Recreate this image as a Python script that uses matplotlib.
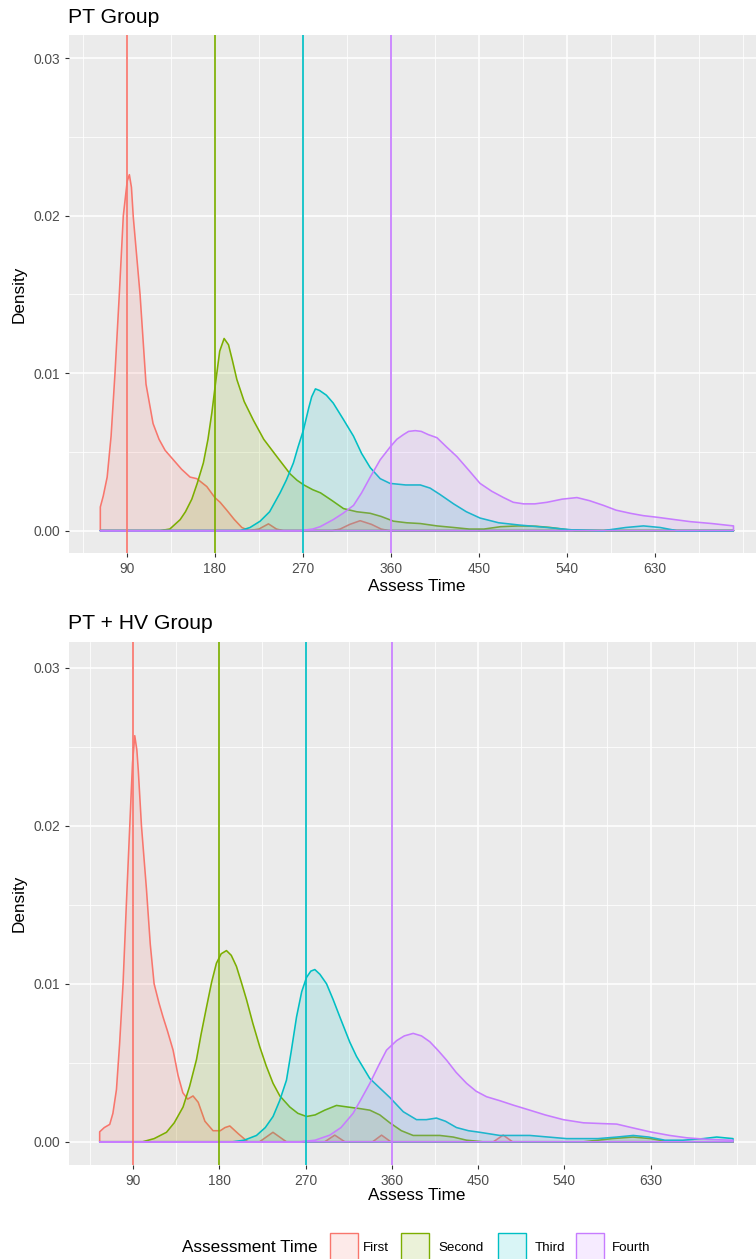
import matplotlib
matplotlib.use("Agg")
import matplotlib.pyplot as plt
from matplotlib.patches import Rectangle
from matplotlib.colors import to_rgba

plt.rcParams['font.family'] = ['Liberation Sans', 'DejaVu Sans']

groups = ["First", "Second", "Third", "Fourth"]
colors = ["#F8766D", "#7CAE00", "#00BFC4", "#C77CFF"]
vline_x = [90, 180, 270, 360]
xticks = [90, 180, 270, 360, 450, 540, 630]
xminor = [45, 135, 225, 315, 405, 495, 585, 675, 720]
yticks = [0.00, 0.01, 0.02, 0.03]
ytick_labels = ["0.00", "0.01", "0.02", "0.03"]
yminor = [0.005, 0.015, 0.025]
panel_titles = ["PT Group", "PT + HV Group"]

# ---------------- PT Group ----------------
pt_first_x = [63, 63, 66, 70, 74, 78, 82.4, 86.5, 90.5, 92.7, 94.8, 96.7, 103.6, 109.7, 116.9, 123,
              129.2, 137.6, 146, 154.7, 161.6, 171.8, 180, 185.4, 192.2, 200, 207.6, 215, 225,
              234.8, 243, 250, 300, 308, 318, 328.5, 340, 350, 358, 710]
pt_first_y = [0, 0.0015, 0.0022, 0.0034, 0.0060, 0.0100, 0.0150, 0.0200, 0.0222, 0.0226, 0.0218,
              0.0199, 0.0150, 0.0093, 0.0068, 0.0058, 0.0051, 0.0045, 0.0039, 0.0034, 0.0033, 0.0028,
              0.0021, 0.0018, 0.0013, 0.0007, 0.0002, 0.0, 0.0001, 0.00043, 0.0001, 0.0, 0.0,
              0.0001, 0.0004, 0.00063, 0.0004, 0.0001, 0.0, 0.0]

pt_second_x = [63, 124, 134, 144.6, 150, 156.5, 162, 168.3, 173, 177, 181, 185, 189.5, 194, 198,
               202.5, 210, 219.5, 230, 243.4, 257, 264, 271, 280, 288, 300, 311.5, 325, 338.8, 350,
               362.6, 376, 390, 407, 424, 440, 455, 472, 490, 508, 523, 535, 548, 710]
pt_second_y = [0, 0, 0.0001, 0.0007, 0.0012, 0.0020, 0.0030, 0.0043, 0.0058, 0.0075, 0.0095,
               0.0114, 0.0122, 0.0118, 0.0108, 0.0096, 0.0082, 0.0070, 0.0058, 0.0047, 0.0036,
               0.0032, 0.0029, 0.0026, 0.0024, 0.0019, 0.0014, 0.0012, 0.0011, 0.0009, 0.0006,
               0.0005, 0.00045, 0.0003, 0.0002, 0.0001, 0.0001, 0.00025, 0.0003, 0.00028, 0.0002,
               0.0001, 0.0, 0.0]

pt_third_x = [63, 206, 216, 226.3, 236, 246.7, 253, 260.3, 265, 270.6, 276, 279, 282.8, 287, 294,
              301, 311, 321.7, 330, 338.8, 349, 359, 375, 390, 400, 410, 424, 437, 451, 470, 492,
              520, 545, 577, 600, 618, 635, 652, 710]
pt_third_y = [0, 0, 0.0002, 0.0006, 0.0012, 0.0024, 0.0032, 0.0043, 0.0053, 0.0064, 0.0078,
              0.0085, 0.0090, 0.0089, 0.0086, 0.0081, 0.0071, 0.0060, 0.0049, 0.0040, 0.0033,
              0.0030, 0.0029, 0.0029, 0.0027, 0.0023, 0.0017, 0.0012, 0.0008, 0.0005, 0.00035,
              0.0002, 0.00005, 0.0, 0.0002, 0.0003, 0.0002, 0.0, 0.0]

pt_fourth_x = [63, 267, 280, 287.6, 301, 311, 321.7, 330, 338.8, 349, 359, 366, 372.8, 378, 384.8,
               391, 398, 407, 417, 427.4, 440, 451, 463, 475, 485, 495.5, 507, 519.4, 535, 550,
               563, 577.3, 590, 604.6, 618, 632, 650, 666, 688, 710, 710]
pt_fourth_y = [0, 0, 0.0001, 0.00025, 0.0007, 0.0011, 0.0016, 0.0024, 0.0034, 0.0045, 0.0053,
               0.0058, 0.0061, 0.0063, 0.00635, 0.0063, 0.0061, 0.0059, 0.0053, 0.0047, 0.0038,
               0.0030, 0.0025, 0.0021, 0.0018, 0.0017, 0.0017, 0.0018, 0.0020, 0.0021, 0.0019,
               0.0016, 0.0013, 0.0011, 0.00095, 0.00085, 0.0007, 0.00057, 0.00045, 0.0003, 0.0]

# ---------------- PT + HV Group ----------------
hv_first_x = [55.2, 55.2, 60, 65.7, 69, 72.7, 76, 79.6, 83.1, 86.6, 89.5, 91.8, 94, 95.5, 98.8,
              104, 108, 112, 117, 121.3, 126, 131.8, 137, 142, 147, 152.6, 158, 165, 173.5, 181,
              186, 191, 200, 209.7, 222, 229, 236, 243, 250, 290, 300.5, 311, 340, 349.3, 359,
              466, 476.2, 486, 716]
hv_first_y = [0, 0.00063, 0.0009, 0.0011, 0.0018, 0.0033, 0.0062, 0.0100, 0.0151, 0.0200, 0.0240,
              0.0257, 0.0248, 0.0235, 0.0200, 0.0160, 0.0125, 0.0100, 0.0088, 0.0079, 0.0070,
              0.0058, 0.0042, 0.0031, 0.0027, 0.0029, 0.0025, 0.0013, 0.0007, 0.0007, 0.0009,
              0.0010, 0.0005, 0.0, 0.0, 0.0003, 0.0006, 0.0003, 0.0, 0.0, 0.00042, 0.0, 0.0,
              0.00042, 0.0, 0.0, 0.00042, 0.0, 0.0]

hv_second_x = [55.2, 100, 112, 124.9, 133, 142.2, 149, 156.2, 161, 166.6, 172, 177, 182, 187.5,
               192.5, 197.9, 203, 208.4, 215, 222.3, 229, 236.1, 243.2, 253.6, 262, 271, 280, 290,
               302.3, 314, 326.6, 337.1, 347.5, 358, 370, 382.3, 396, 410.1, 424, 438, 455, 470,
               560, 590, 611.6, 630, 650, 716]
hv_second_y = [0, 0, 0.0002, 0.0006, 0.0012, 0.0022, 0.0035, 0.0052, 0.0068, 0.0085, 0.0101,
               0.0113, 0.0119, 0.0121, 0.0118, 0.0111, 0.0101, 0.0090, 0.0075, 0.0060, 0.0048,
               0.0037, 0.0029, 0.0022, 0.0018, 0.0016, 0.0017, 0.0020, 0.0023, 0.0022, 0.0021,
               0.0020, 0.0017, 0.0012, 0.0007, 0.0004, 0.0004, 0.0004, 0.0003, 0.0001, 0.0, 0.0,
               0.0, 0.0002, 0.0003, 0.0002, 0.0, 0.0]

hv_third_x = [55.2, 194, 206, 218.8, 228, 236.1, 243, 250.1, 255, 260.6, 266, 271, 275.5, 279.7,
              285, 291.9, 298.8, 305.8, 316.2, 323.2, 337.1, 347.5, 358, 372, 385.8, 396, 406.6,
              416, 427.5, 440, 451.8, 472.7, 504, 542.4, 575, 595, 611.9, 628, 645, 663.8, 685,
              699, 716, 716]
hv_third_y = [0, 0, 0.0001, 0.0004, 0.0009, 0.0016, 0.0026, 0.0039, 0.0057, 0.0079, 0.0095,
              0.0104, 0.0108, 0.0109, 0.0106, 0.0100, 0.0090, 0.0079, 0.0063, 0.0054, 0.0040,
              0.0034, 0.0028, 0.0019, 0.0014, 0.0014, 0.0015, 0.0013, 0.0009, 0.0007, 0.0006,
              0.0004, 0.0004, 0.0002, 0.0002, 0.0003, 0.0004, 0.0003, 0.0001, 0.0001, 0.0002,
              0.0003, 0.0002, 0.0]

hv_fourth_x = [55.2, 264, 280, 295.3, 307, 319.6, 328, 337.1, 346, 354.5, 365, 373, 382.3, 391,
               399.7, 408, 417.1, 427, 438, 448, 458.9, 472.7, 486.7, 504, 520, 538.9, 560, 580,
               594.6, 610, 629.4, 650, 668, 690, 716, 716]
hv_fourth_y = [0, 0, 0.0001, 0.00042, 0.0009, 0.0018, 0.0027, 0.0037, 0.0048, 0.0058, 0.0064,
               0.0067, 0.00686, 0.0067, 0.00633, 0.0058, 0.00517, 0.0044, 0.0037, 0.0032, 0.00285,
               0.0026, 0.00232, 0.0020, 0.0017, 0.0014, 0.0012, 0.00115, 0.00112, 0.0009, 0.00063,
               0.0004, 0.00025, 0.00015, 0.0001, 0.0]

panels = [
    [(pt_first_x, pt_first_y), (pt_second_x, pt_second_y),
     (pt_third_x, pt_third_y), (pt_fourth_x, pt_fourth_y)],
    [(hv_first_x, hv_first_y), (hv_second_x, hv_second_y),
     (hv_third_x, hv_third_y), (hv_fourth_x, hv_fourth_y)],
]

W, H = 756, 1259
fig = plt.figure(figsize=(W / 100, H / 100), dpi=100)

geoms = [
    dict(box=(69, 35, 756, 553), xlim=(31, 733), ylim=(-0.00142, 0.03147),
         title_base=22.7, xlab_top=579),
    dict(box=(69, 641.7, 756, 1165), xlim=(23.2, 740), ylim=(-0.00147, 0.03165),
         title_base=629, xlab_top=1188),
]

tick_font = 9.9
for g, series, title in zip(geoms, panels, panel_titles):
    l, t, r, b = g['box']
    ax = fig.add_axes([l / W, 1 - b / H, (r - l) / W, (b - t) / H])
    ax.set_facecolor('#EBEBEB')
    for s in ax.spines.values():
        s.set_visible(False)
    ax.set_axisbelow(True)
    ax.set_xlim(*g['xlim'])
    ax.set_ylim(*g['ylim'])
    ax.set_xticks(xticks)
    ax.set_xticklabels([str(v) for v in xticks])
    ax.set_xticks(xminor, minor=True)
    ax.set_yticks(yticks)
    ax.set_yticklabels(ytick_labels)
    ax.set_yticks(yminor, minor=True)
    ax.grid(which='major', color='white', lw=1.15)
    ax.grid(which='minor', color='white', lw=0.55)
    ax.tick_params(which='major', length=2.8, width=0.8, color='#333333',
                   labelsize=tick_font, labelcolor='#4D4D4D', pad=3.4)
    ax.tick_params(which='minor', length=0)

    for (xs, ys), c in zip(series, colors):
        ax.fill(xs, ys, facecolor=to_rgba(c, 0.15), edgecolor=c, lw=1.15,
                joinstyle='round', zorder=2)
    for v, c in zip(vline_x, colors):
        ax.axvline(v, color=c, lw=1.25, zorder=3)

    ax.set_xlabel("Assess Time", fontsize=12.3, color='black')
    ax.xaxis.set_label_coords(0.5 + (764 - 756) / 2 / (r - l), -(g['xlab_top'] - b) / (b - t))
    ax.set_ylabel("Density", fontsize=12.3, color='black')
    ax.yaxis.set_label_coords(-(l - 27) / (r - l), 0.5)
    fig.text(68 / W, 1 - g['title_base'] / H, title, fontsize=15.2, color='black',
             ha='left', va='baseline')

leg_y = 1248
fig.text(181.5 / W, 1 - leg_y / H, "Assessment Time", fontsize=12.3, ha='left', va='center')
key_x = [330, 401, 498, 576]
lab_x = [363, 438, 535, 612]
for kx, lx, g, c in zip(key_x, lab_x, groups, colors):
    fig.patches.append(Rectangle((kx / W, 1 - (1233 + 28) / H), 28 / W, 28 / H,
                                 transform=fig.transFigure, facecolor=to_rgba(c, 0.15),
                                 edgecolor=c, lw=1.0))
    fig.text(lx / W, 1 - leg_y / H, g, fontsize=9.6, ha='left', va='center', color='black')

fig.savefig("out.png", dpi=100)
